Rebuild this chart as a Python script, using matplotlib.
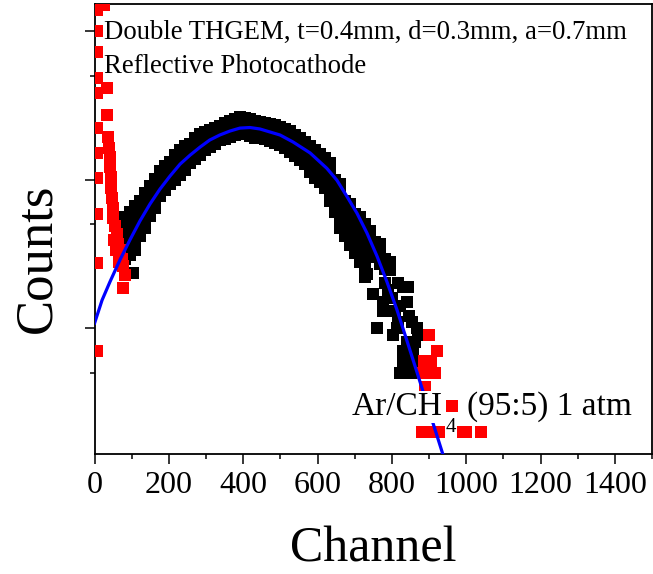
import matplotlib
matplotlib.use('Agg')
import matplotlib.pyplot as plt
from matplotlib.ticker import MultipleLocator, FixedLocator, NullFormatter

plt.rcParams['font.family'] = ['Liberation Serif', 'DejaVu Serif']

# black spectrum (photocathode), channel vs counts
black_ch = [
    82, 82, 82, 82, 82, 82,
    95, 95, 95, 95, 95, 95, 103,
    109, 109, 109, 109, 109, 109,
    122, 122, 122, 122, 122,
    136, 136, 136, 136, 136,
    149, 149, 149, 149,
    163, 163, 163, 163,
    176, 176, 176, 176,
    189, 189, 189, 189,
    203, 203, 203, 203,
    216, 216, 216, 216,
    230, 230, 230, 230,
    243, 243, 243, 243,
    257, 257, 257,
    270, 270, 270,
    284, 284, 284,
    297, 297, 297,
    310, 310, 310,
    324, 324, 324,
    337, 337, 337,
    351, 351, 351,
    364, 364, 364,
    378, 378, 378,
    391, 391, 391,
    405, 405, 405,
    418, 418, 418,
    432, 432, 432,
    445, 445, 445,
    458, 458, 458,
    472, 472, 472,
    485, 485, 485,
    499, 499, 499,
    512, 512, 512,
    526, 526, 526,
    539, 539, 539,
    553, 553, 553,
    566, 566, 566,
    580, 580, 580, 580,
    593, 593, 593, 593,
    607, 607, 607, 607,
    620, 620, 620, 620,
    633, 633, 633, 633, 633, 633,
    647, 647, 647, 647, 647,
    660, 660, 660, 660, 660, 660,
    674, 674, 674, 674, 674,
    687, 687, 687, 687, 687, 687,
    701, 701, 701, 701, 701,
    714, 714, 714, 714, 714, 714,
    728, 728, 728, 728, 728, 728, 728,
    741, 741, 741, 741,
    754, 754, 754,
    768, 768, 768,
    781, 781, 781,
    795, 795,
    734, 749, 790, 776, 800, 830, 817, 844, 840, 822, 776, 808, 847, 854, 817,
    760, 814, 868, 803, 870, 840, 862, 830, 857, 830, 862, 822, 854,
]
black_counts = [
    56, 49, 44, 38, 33.5, 29,
    60, 53, 47, 41, 36, 31, 23.5,
    66, 59, 52, 46, 40, 33.5,
    72, 62, 55, 48, 42,
    81, 71, 62, 54, 47,
    90, 77, 66, 57,
    101, 86, 75, 64,
    114, 101, 88, 77,
    123, 109, 96, 85,
    131, 116, 104, 93,
    146, 129, 112, 99,
    158, 140, 121, 107,
    168, 148, 131, 116,
    173, 151, 129,
    190, 163, 137,
    202, 173, 146,
    209, 182, 158,
    216, 190, 166,
    222, 196, 173,
    229, 206, 184,
    240, 212, 187,
    248, 219, 193,
    255, 226, 199,
    263, 233, 202,
    260, 229, 202,
    255, 226, 196,
    248, 219, 190,
    244, 216, 190,
    240, 212, 187,
    236, 209, 182,
    233, 202, 176,
    226, 196, 171,
    219, 190, 163,
    212, 182, 153,
    199, 171, 144,
    190, 160, 135,
    179, 151, 127,
    168, 146, 127, 112,
    158, 137, 118, 102,
    148, 129, 111, 96,
    140, 119, 102, 88,
    129, 114, 101, 89, 79, 72,
    99, 88, 77, 68, 60,
    93, 81, 71, 61, 53, 47,
    72, 62, 55, 48, 42,
    68, 60, 52, 47, 40, 36,
    59, 50, 44, 37, 32,
    56, 49, 42, 37, 32, 28,
    50, 44, 38, 33, 29, 25, 22,
    45, 39, 34, 30,
    38, 33.5, 30,
    37, 32.5, 27,
    29, 25, 20,
    28, 24.5,
    23, 17, 18, 15, 16, 19, 20, 19, 15, 14, 13, 13, 12, 11, 11,
    10, 10, 10, 9, 9, 8, 8, 7, 7, 6, 6, 5, 5,
]

# red spectrum (low channel noise + high channel tail)
red_ch = [
    8, 25, 6, 6, 6, 6, 6, 6, 6, 6, 6, 6, 6,
    33, 33, 36, 39, 41, 41, 44, 44, 47, 50, 50, 52, 55, 58, 60, 63, 66, 68, 74, 76, 82, 76,
    900, 921, 886, 905, 883, 900, 915, 890, 961,
    881, 900, 920, 940, 960, 980, 1000, 1040,
]
red_counts = [
    1550, 1500, 1380, 1000, 720, 480, 380, 222, 151, 102, 59, 27.5, 7,
    413, 272, 193, 163, 142, 121, 104, 88, 75, 64, 55, 39, 48.6, 33.5, 43, 37, 27.8, 33.5, 29.4, 26, 22.7, 18.6,
    9, 7, 6, 6, 5, 5, 5, 4, 3,
    2, 2, 2, 2, 2, 2, 2, 2,
]

# fitted curve
fit_ch = [0, 20, 41, 68, 95, 122, 149, 176, 203, 230, 257, 284, 310, 337, 364,
          391, 418, 445, 472, 499, 534, 580, 625, 652, 679, 706, 733, 760, 787,
          814, 840, 867, 894, 921, 948]
fit_counts = [10.8, 15.4, 20.4, 28.7, 39.2, 52.6, 68.4, 86.3, 105.6, 127, 146, 165.5,
              184.6, 199.5, 212, 222, 224, 219, 209, 199.5, 179, 151, 119, 99, 77,
              59.4, 43.6, 30.5, 20.4, 13.2, 8.3, 5.1, 3.1, 1.9, 1.16]

x_ticks = [0, 200, 400, 600, 800, 1000, 1200, 1400]

W, H = 653, 574
fig = plt.figure(figsize=(W / 100, H / 100), dpi=100)
ax = fig.add_axes([94.6 / W, 1 - 454 / H, (652 - 94.6) / W, 450 / H])

ax.plot(black_ch, black_counts, 's', color='black', markersize=8.5, markeredgewidth=0, zorder=2)
ax.plot(red_ch, red_counts, 's', color='#ff0000', markersize=8, markeredgewidth=0, zorder=3)
ax.plot(fit_ch, fit_counts, '-', color='#0000ff', linewidth=2.3, zorder=4)

ax.set_yscale('log')
ax.set_xlim(0, 1500)
ax.set_ylim(1.42, 1520)
ax.set_xticks(x_ticks)
ax.set_xticklabels([str(t) for t in x_ticks])
ax.xaxis.set_minor_locator(MultipleLocator(100))
ax.yaxis.set_major_locator(FixedLocator([10, 100, 1000]))
ax.yaxis.set_minor_locator(FixedLocator([5, 50, 500]))
ax.yaxis.set_major_formatter(NullFormatter())
ax.yaxis.set_minor_formatter(NullFormatter())
ax.tick_params(which='both', direction='out', top=False, right=False, width=1.1)
ax.tick_params(which='major', length=7, labelsize=23, pad=5)
ax.tick_params(which='minor', length=3.5)
for sp in ax.spines.values():
    sp.set_linewidth(1.3)

box = dict(facecolor='white', edgecolor='none', pad=0.5)
fig.text(103.6 / W, 1 - 39 / H, 'Double THGEM, t=0.4mm, d=0.3mm, a=0.7mm',
         fontsize=19.3, ha='left', va='baseline', bbox=box)
fig.text(103.6 / W, 1 - 73 / H, 'Reflective Photocathode',
         fontsize=19.3, ha='left', va='baseline', bbox=box)

fig.text(352 / W, 1 - 415 / H, 'Ar/CH', fontsize=24, ha='left', va='baseline', bbox=box)
fig.text(451 / W, 1 - 432 / H, '4', fontsize=15, ha='center', va='baseline', bbox=box)
fig.text(467 / W, 1 - 415 / H, '(95:5) 1 atm', fontsize=24, ha='left', va='baseline', bbox=box)

fig.text(373 / W, 1 / H, 'Channel', fontsize=36, ha='center', va='bottom')
fig.text(50 / W, 1 - 258 / H, 'Counts', fontsize=38, rotation=90, ha='center',
         va='baseline', rotation_mode='anchor')

fig.savefig('out.png', dpi=100, facecolor='white')
